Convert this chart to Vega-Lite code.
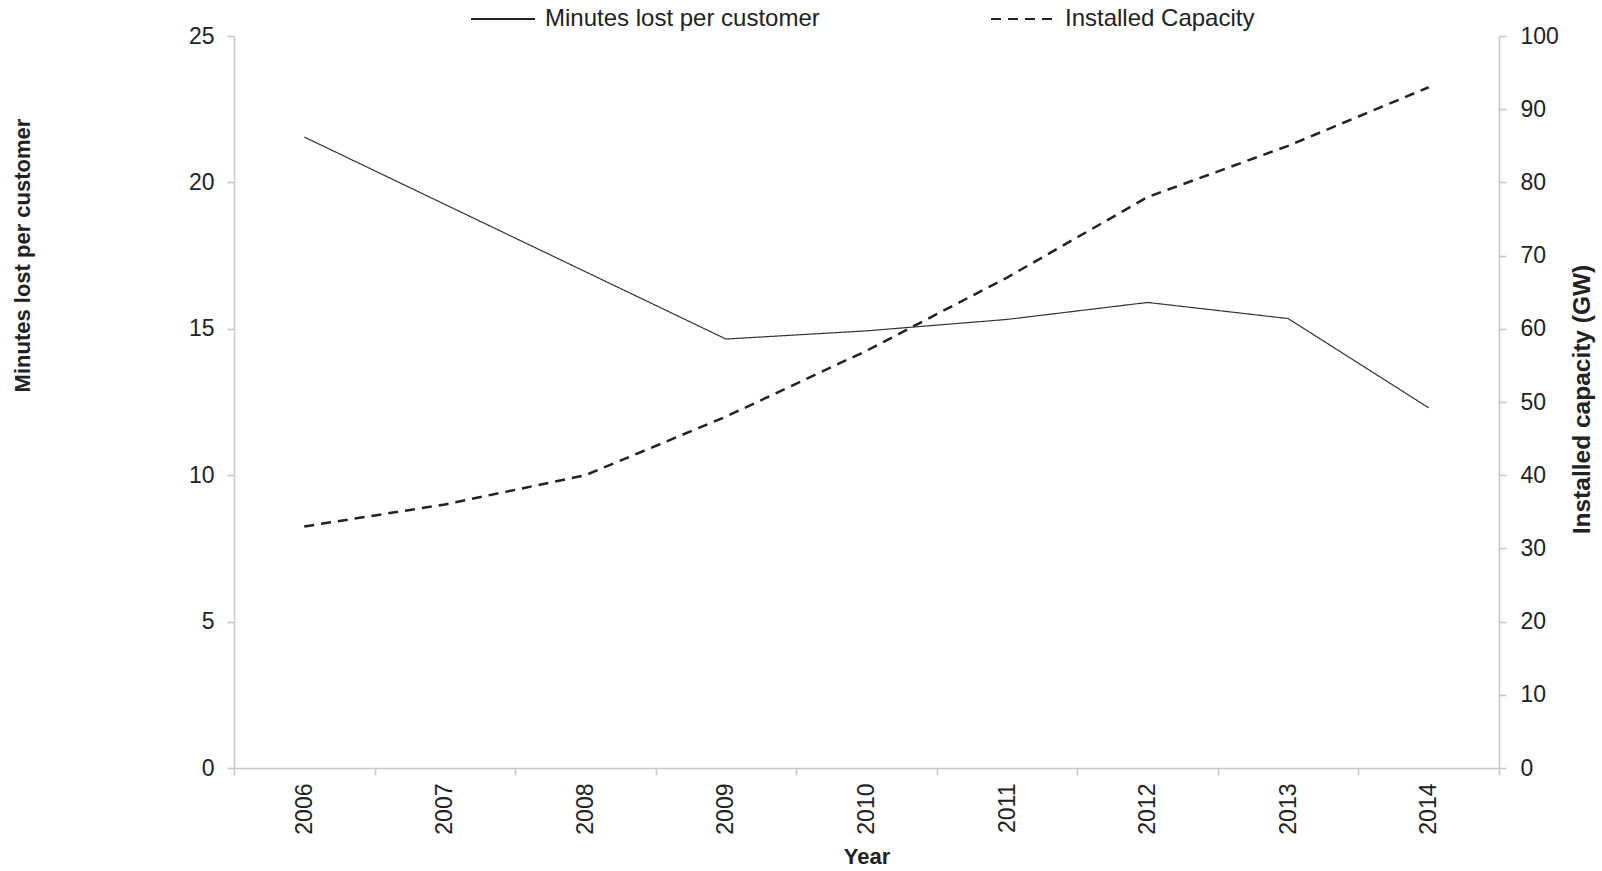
{
  "$schema": "https://vega.github.io/schema/vega-lite/v6.json",
  "width": 1265,
  "height": 732,
  "autosize": {"type": "none"},
  "padding": {"left": 234, "top": 36, "right": 103, "bottom": 103},
  "background": "white",
  "config": {
    "view": {"stroke": null},
    "font": "Liberation Sans",
    "axis": {
      "domainColor": "#c8c8c8",
      "domainWidth": 1.6,
      "tickColor": "#c8c8c8",
      "tickWidth": 1.6,
      "tickSize": 7,
      "grid": false,
      "labelFont": "Liberation Sans",
      "labelFontSize": 23,
      "labelColor": "#222222",
      "titleFont": "Liberation Sans",
      "titleFontSize": 22,
      "titleFontWeight": "bold",
      "titleColor": "#222222"
    }
  },
  "data": {
    "values": [
      {"year": "2006", "minutes": 21.55, "capacity": 33},
      {"year": "2007", "minutes": 19.25, "capacity": 36},
      {"year": "2008", "minutes": 16.95, "capacity": 40},
      {"year": "2009", "minutes": 14.65, "capacity": 48},
      {"year": "2010", "minutes": 14.93, "capacity": 57},
      {"year": "2011", "minutes": 15.32, "capacity": 67},
      {"year": "2012", "minutes": 15.9, "capacity": 78},
      {"year": "2013", "minutes": 15.35, "capacity": 85},
      {"year": "2014", "minutes": 12.3, "capacity": 93}
    ]
  },
  "encoding": {
    "x": {
      "field": "year",
      "type": "ordinal",
      "scale": {"type": "band", "paddingInner": 0, "paddingOuter": 0},
      "axis": {
        "title": "Year",
        "tickBand": "extent",
        "labelAngle": -90,
        "labelPadding": 8,
        "titleBaseline": "middle",
        "titleY": 88
      }
    }
  },
  "layer": [
    {
      "mark": {"type": "line", "stroke": "#333333", "strokeWidth": 1.2},
      "encoding": {
        "y": {
          "field": "minutes",
          "type": "quantitative",
          "scale": {"domain": [0, 25]},
          "axis": {
            "title": "Minutes lost per customer",
            "values": [0, 5, 10, 15, 20, 25],
            "labelPadding": 13,
            "titleAngle": -90,
            "titleBaseline": "middle",
            "titleX": -212,
            "titleY": 219
          }
        },
        "strokeDash": {
          "datum": "Minutes lost per customer",
          "type": "nominal",
          "scale": {
            "domain": ["Minutes lost per customer", "Installed Capacity"],
            "range": [[1, 0], [10, 7]]
          },
          "legend": {
            "title": null,
            "orient": "none",
            "direction": "horizontal",
            "legendX": 236,
            "legendY": -50,
            "padding": 0,
            "symbolType": "stroke",
            "symbolSize": 4096,
            "symbolStrokeWidth": 2,
            "symbolStrokeColor": "#444444",
            "labelFont": "Liberation Sans",
            "labelFontSize": 24,
            "labelColor": "#222222",
            "labelLimit": 0,
            "labelOffset": 9,
            "columnPadding": 167
          }
        }
      }
    },
    {
      "mark": {"type": "line", "stroke": "#222222", "strokeWidth": 2.5},
      "encoding": {
        "y": {
          "field": "capacity",
          "type": "quantitative",
          "scale": {"domain": [0, 100]},
          "axis": {
            "orient": "right",
            "title": "Installed capacity (GW)",
            "titleFontSize": 24.5,
            "values": [0, 10, 20, 30, 40, 50, 60, 70, 80, 90, 100],
            "labelPadding": 14,
            "titleAngle": -90,
            "titleBaseline": "middle",
            "titleX": 83,
            "titleY": 363
          }
        },
        "strokeDash": {"datum": "Installed Capacity", "type": "nominal"}
      }
    }
  ],
  "resolve": {"scale": {"y": "independent"}}
}
